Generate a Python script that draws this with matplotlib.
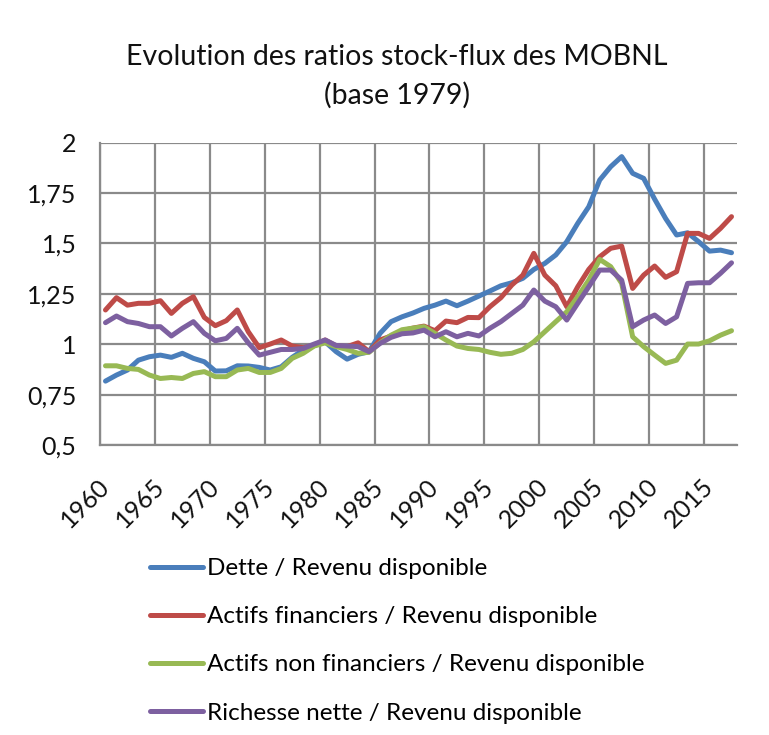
import numpy as np
import matplotlib
matplotlib.use("Agg")
import matplotlib.pyplot as plt
from matplotlib.ticker import FixedLocator, FuncFormatter
from matplotlib.transforms import ScaledTranslation

plt.rcParams['font.family'] = ['Lato', 'DejaVu Sans']

years = list(range(1960, 2018))

dette = [0.817, 0.847, 0.872, 0.921, 0.938, 0.946, 0.935, 0.955, 0.930, 0.913,
         0.867, 0.868, 0.893, 0.892, 0.885, 0.872, 0.888, 0.935, 0.971, 0.993,
         1.012, 0.963, 0.926, 0.950, 0.963, 1.054, 1.112, 1.136, 1.155, 1.178,
         1.194, 1.214, 1.191, 1.214, 1.239, 1.264, 1.290, 1.305, 1.327, 1.371,
         1.401, 1.443, 1.509, 1.600, 1.682, 1.815, 1.881, 1.931, 1.848, 1.823,
         1.720, 1.624, 1.542, 1.553, 1.509, 1.462, 1.467, 1.454]

actifs_fin = [1.170, 1.231, 1.194, 1.203, 1.203, 1.216, 1.153, 1.203, 1.236, 1.133,
              1.092, 1.117, 1.170, 1.062, 0.983, 1.001, 1.021, 0.991, 0.983, 0.994,
              1.021, 0.991, 0.988, 1.007, 0.963, 1.021, 1.041, 1.067, 1.080, 1.090,
              1.067, 1.115, 1.107, 1.133, 1.132, 1.186, 1.231, 1.294, 1.343, 1.451,
              1.343, 1.290, 1.186, 1.285, 1.371, 1.434, 1.476, 1.487, 1.277, 1.343,
              1.388, 1.332, 1.360, 1.550, 1.550, 1.525, 1.575, 1.633]

actifs_nonfin = [0.893, 0.893, 0.880, 0.875, 0.847, 0.830, 0.835, 0.830, 0.855, 0.864,
                 0.839, 0.839, 0.872, 0.880, 0.860, 0.860, 0.880, 0.930, 0.955, 0.991,
                 1.007, 0.988, 0.974, 0.955, 0.960, 1.007, 1.045, 1.072, 1.080, 1.087,
                 1.054, 1.021, 0.991, 0.979, 0.974, 0.960, 0.950, 0.955, 0.974, 1.012,
                 1.062, 1.112, 1.161, 1.236, 1.318, 1.421, 1.385, 1.302, 1.037, 0.988,
                 0.946, 0.905, 0.921, 1.001, 1.001, 1.017, 1.045, 1.067]

richesse = [1.107, 1.140, 1.112, 1.103, 1.087, 1.087, 1.041, 1.079, 1.112, 1.054,
            1.017, 1.029, 1.079, 1.007, 0.946, 0.960, 0.974, 0.974, 0.979, 1.001,
            1.021, 0.994, 0.991, 0.988, 0.963, 1.004, 1.034, 1.052, 1.056, 1.070,
            1.037, 1.062, 1.037, 1.054, 1.041, 1.079, 1.112, 1.153, 1.194, 1.269,
            1.214, 1.186, 1.120, 1.203, 1.285, 1.368, 1.368, 1.318, 1.087, 1.120,
            1.145, 1.103, 1.136, 1.302, 1.305, 1.305, 1.352, 1.404]

labels = ["Dette / Revenu disponible",
          "Actifs financiers / Revenu disponible",
          "Actifs non financiers / Revenu disponible",
          "Richesse nette / Revenu disponible"]
colors = ["#4a7ebb", "#be4b48", "#98b954", "#7d60a0"]

W, H = 769, 735
fig = plt.figure(figsize=(W / 100, H / 100), dpi=100)
ax = fig.add_axes([100 / W, 1 - 445 / H, 637 / W, (445 - 142.7) / H])

for vals, lab, col in zip([dette, actifs_fin, actifs_nonfin, richesse], labels, colors):
    ax.plot(years, vals, color=col, lw=3.6, label=lab, solid_capstyle='round',
            solid_joinstyle='round')

ax.set_xlim(1959.5, 2017.5)
ax.set_ylim(0.5, 2.0)

# y axis
ax.yaxis.set_major_locator(FixedLocator(np.arange(0.5, 2.01, 0.25)))
ax.yaxis.set_major_formatter(FuncFormatter(lambda v, p: f"{v:g}".replace('.', ',')))
ax.tick_params(axis='y', length=0, pad=17, labelsize=18, colors='#111111')
ax.yaxis.grid(True, color='#8a8a8a', lw=1.6)

# x axis: labels on categories, gridlines between categories
ax.set_xticks(list(range(1960, 2018, 5)))
ax.set_xticks([1959.5 + 5 * i for i in range(12)], minor=True)
ax.xaxis.grid(True, which='minor', color='#8a8a8a', lw=1.6)
ax.tick_params(axis='x', which='both', length=0)
ax.tick_params(axis='x', which='major', pad=21, labelsize=18, colors='#111111')
shift = ScaledTranslation(-8 / 100, 0, fig.dpi_scale_trans)
for t in ax.get_xticklabels():
    t.set_rotation(45)
    t.set_ha('right')
    t.set_rotation_mode('anchor')
    t.set_transform(t.get_transform() + shift)
ax.set_axisbelow(True)

for s in ['top', 'right']:
    ax.spines[s].set_visible(False)
for s in ['left', 'bottom']:
    ax.spines[s].set_color('#8a8a8a')
    ax.spines[s].set_linewidth(1.6)

fig.text(397 / W, 1 - 57 / H, "Evolution des ratios stock-flux des MOBNL",
         ha='center', va='center', fontsize=20.5, color='#111111')
fig.text(397 / W, 1 - 95 / H, "(base 1979)",
         ha='center', va='center', fontsize=20.5, color='#111111')

fig.legend(loc='upper left', bbox_to_anchor=(150 / W, 1 - 558 / H), frameon=False,
           fontsize=17.5, handlelength=2.18, handletextpad=0.16, labelspacing=1.12,
           borderaxespad=0, borderpad=0)

fig.savefig("out.png", dpi=100)
